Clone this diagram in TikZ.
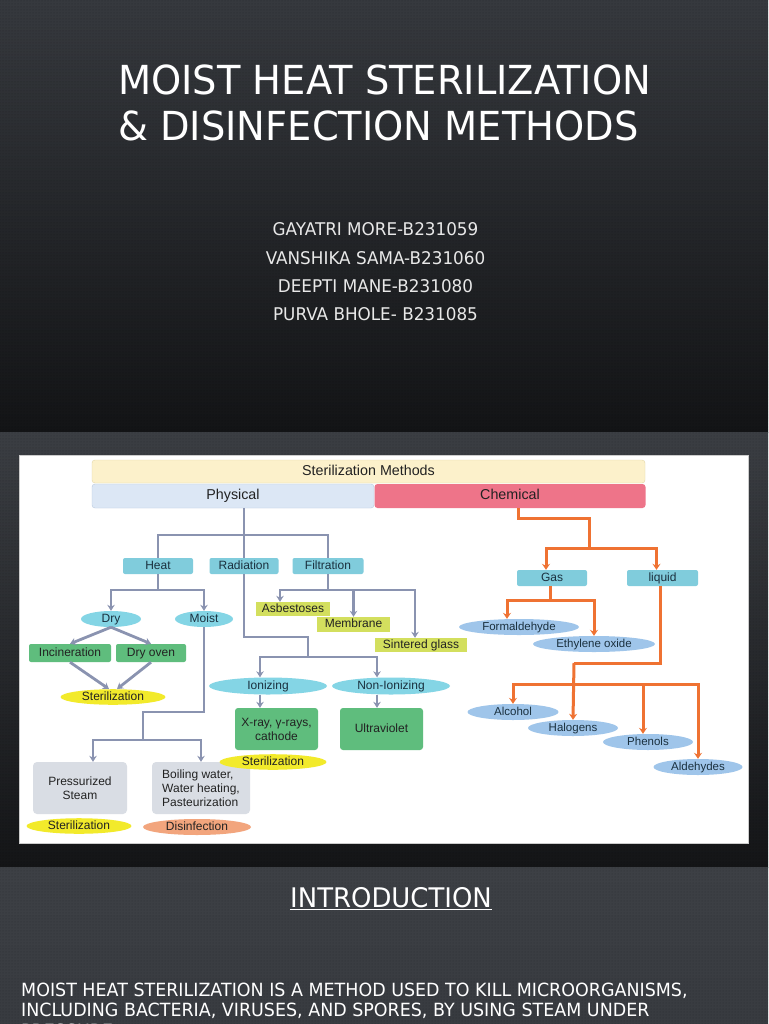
\documentclass[tikz,border=0pt]{standalone}
\usepackage{fontspec}
\setmainfont{Liberation Sans}
\newfontfamily\slidefont[FakeStretch=0.96]{DejaVu Sans}
\usepackage{xcolor}
\usepackage{tikz}
\usetikzlibrary{
  positioning,
  arrows.meta,
  shapes.geometric,
  patterns
}
\definecolor{slideAtop}{RGB}{54,57,62}
\definecolor{slideAmid}{RGB}{44,47,51}
\definecolor{slideAbot}{RGB}{19,20,22}
\definecolor{slideBtop}{RGB}{59,62,67}
\definecolor{slideBbot}{RGB}{20,21,23}
\definecolor{slideCtop}{RGB}{61,64,69}
\definecolor{slideCbot}{RGB}{56,59,64}
\definecolor{namegray}{RGB}{232,232,232}
\definecolor{methodbg}{RGB}{252,241,203}
\definecolor{methodborder}{RGB}{227,214,168}
\definecolor{physbg}{RGB}{220,231,245}
\definecolor{physborder}{RGB}{185,201,222}
\definecolor{chembg}{RGB}{238,116,137}
\definecolor{catbg}{RGB}{128,204,220}
\definecolor{ovalbg}{RGB}{132,213,229}
\definecolor{greenbg}{RGB}{95,189,125}
\definecolor{filterbg}{RGB}{211,223,94}
\definecolor{steambg}{RGB}{217,221,228}
\definecolor{steriyellow}{RGB}{242,234,43}
\definecolor{disinfbg}{RGB}{242,165,125}
\definecolor{chemovalbg}{RGB}{159,197,234}
\definecolor{physlinecolor}{RGB}{138,147,176}
\definecolor{chemlinecolor}{RGB}{239,114,50}
\definecolor{diagtext}{RGB}{34,34,34}
\definecolor{cattext}{RGB}{26,48,62}
\tikzset{
  titletext/.style={
    font=\slidefont\fontsize{40}{44}\selectfont, text=white, inner sep=0pt
  },
  nametext/.style={
    font=\slidefont\fontsize{17.5}{19}\selectfont, text=namegray, inner sep=0pt
  },
  oneline/.style={
    text height=8.6pt, text depth=2.4pt
  },
  barline/.style={
    text height=10.3pt, text depth=2.9pt
  },
  methodbar/.style={
    barline, draw=methodborder, fill=methodbg, rounded corners=3pt,
    minimum width=553pt, minimum height=23pt, inner sep=0pt,
    font=\fontsize{14.3}{15}\selectfont, text=diagtext
  },
  physbar/.style={
    barline, draw=physborder, fill=physbg, rounded corners=3pt,
    minimum width=282pt, minimum height=24pt, inner sep=0pt,
    font=\fontsize{14.3}{15}\selectfont, text=diagtext
  },
  chembar/.style={
    barline, fill=chembg, rounded corners=3pt,
    minimum width=271pt, minimum height=24pt, inner sep=0pt,
    font=\fontsize{14.3}{15}\selectfont, text=diagtext
  },
  catbox/.style={
    oneline, fill=catbg, rounded corners=2pt,
    minimum width=70pt, minimum height=16pt, inner sep=0pt,
    font=\fontsize{12}{13}\selectfont, text=cattext
  },
  typeoval/.style={
    oneline, ellipse, fill=ovalbg, minimum width=60pt, minimum height=16pt, inner sep=0pt,
    font=\fontsize{12}{13}\selectfont, text=cattext
  },
  greenbox/.style={
    fill=greenbg, rounded corners=2pt, minimum height=18pt, inner sep=0pt,
    font=\fontsize{12}{14}\selectfont, text=diagtext
  },
  filterbox/.style={
    oneline, fill=filterbg, minimum height=14pt, inner sep=0pt,
    font=\fontsize{12}{13}\selectfont, text=diagtext
  },
  steambox/.style={
    fill=steambg, rounded corners=4pt,
    minimum width=94pt, minimum height=52pt, inner sep=0pt,
    font=\fontsize{12}{14}\selectfont, text=diagtext
  },
  resultoval/.style={
    oneline, ellipse, minimum width=105pt, minimum height=15pt, inner sep=0pt,
    font=\fontsize{12}{13}\selectfont, text=diagtext
  },
  chemoval/.style={
    oneline, ellipse, fill=chemovalbg, minimum height=16pt, inner sep=0pt,
    font=\fontsize{11.5}{12}\selectfont, text=cattext
  },
  physline/.style={
    draw=physlinecolor, line width=2.8pt
  },
  physarrow/.style={
    physline, -{Stealth[length=6pt, width=7.5pt]}
  },
  chemline/.style={
    draw=chemlinecolor, line width=3pt
  },
  chemarrow/.style={
    chemline, -{Stealth[length=6pt, width=8pt]}
  }
}

\begin{document}
\begin{tikzpicture}[
    x=1pt, y=-1pt,
    every node/.style={align=center}
  ]
    \clip (0,0) rectangle (768,1024);

    % Slide backgrounds
    \fill[top color=slideAtop, middle color=slideAmid, bottom color=slideAbot] (0,0) rectangle (768,432);
    \fill[top color=slideBtop, bottom color=slideBbot] (0,432) rectangle (768,867);
    \fill[top color=slideCtop, bottom color=slideCbot] (0,867) rectangle (768,1024);
    \fill[pattern=dots, pattern color=black, fill opacity=0.25] (0,0) rectangle (768,1024);

    % Title slide
    \node[titletext, anchor=base west] (title1) at (118,95) {MOIST HEAT STERILIZATION};
    \node[titletext, anchor=base west] (title2) at (118,141) {\& DISINFECTION METHODS};
    \node[nametext, anchor=base] (name1) at (375.5,236) {GAYATRI MORE-B231059};
    \node[nametext, anchor=base] (name2) at (375.5,264) {VANSHIKA SAMA-B231060};
    \node[nametext, anchor=base] (name3) at (375.5,292) {DEEPTI MANE-B231080};
    \node[nametext, anchor=base] (name4) at (375.5,320) {PURVA BHOLE- B231085};

    % Diagram panel
    \fill[white, draw=black!20] (19,455) rectangle (748,843);

    \node[methodbar] (methods) at (368.5,471.5) {Sterilization Methods};
    \node[physbar] (physical) at (233,496) {Physical};
    \node[chembar] (chemical) at (510,496) {Chemical};

    % Physical side
    \node[catbox] (heat) at (158,566) {Heat};
    \node[catbox, minimum width=69pt] (radiation) at (244,566) {Radiation};
    \node[catbox, minimum width=71pt] (filtration) at (328,566) {Filtration};

    \node[typeoval] (dry) at (111,619) {Dry};
    \node[typeoval, minimum width=58pt] (moist) at (204,619) {Moist};
    \node[greenbox, oneline, minimum width=82pt] (incin) at (70,653) {Incineration};
    \node[greenbox, oneline, minimum width=70pt] (dryoven) at (151,653) {Dry oven};
    \node[resultoval, fill=steriyellow] (sterA) at (113,697) {Sterilization};

    \node[steambox] (pressure) at (80,788) {Pressurized\\Steam};
    \node[steambox, minimum width=98pt, align=left] (boiling) at (201,788) {Boiling water,\\Water heating,\\Pasteurization};
    \node[resultoval, fill=steriyellow] (sterB) at (79,826) {Sterilization};
    \node[resultoval, fill=disinfbg, minimum width=108pt, minimum height=16pt] (disinf) at (197,827) {Disinfection};

    \node[filterbox, minimum width=74pt] (asbest) at (293,609) {Asbestoses};
    \node[filterbox, minimum width=73pt, minimum height=15pt] (membrane) at (353.5,624.5) {Membrane};
    \node[filterbox, minimum width=92pt] (sintered) at (421,645) {Sintered glass};

    \node[typeoval, minimum width=118pt, minimum height=17pt] (ionizing) at (268,686) {Ionizing};
    \node[typeoval, minimum width=118pt, minimum height=17pt] (nonion) at (391,686) {Non-Ionizing};
    \node[greenbox, minimum width=83pt, minimum height=42pt, rounded corners=3pt] (xray) at (276.5,729) {X-ray, γ-rays,\\cathode};
    \node[greenbox, oneline, minimum width=83pt, minimum height=42pt, rounded corners=3pt] (uv) at (381.5,729) {Ultraviolet};
    \node[resultoval, fill=steriyellow, minimum width=107pt] (sterC) at (273,762) {Sterilization};

    % Chemical side
    \node[catbox] (gas) at (552,578) {Gas};
    \node[catbox, minimum width=71pt] (liquid) at (662.5,578) {liquid};
    \node[chemoval, minimum width=120pt] (formal) at (519,627) {Formaldehyde};
    \node[chemoval, minimum width=122pt] (ethylene) at (594,644) {Ethylene oxide};
    \node[chemoval, minimum width=91pt] (alcohol) at (513,712) {Alcohol};
    \node[chemoval, minimum width=90pt] (halogens) at (573,728) {Halogens};
    \node[chemoval, minimum width=90pt] (phenols) at (648,742) {Phenols};
    \node[chemoval, minimum width=89pt] (aldehydes) at (698,767) {Aldehydes};

    % Physical branch
    \coordinate (physsplit) at (244,535);
    \draw[physline] (physical.south -| physsplit) -- (physsplit);
    \draw[physline] (heat.north) |- (physsplit) -| (filtration.north);
    \draw[physline] (physsplit) -- (radiation.north);

    % Heat branch
    \coordinate (heatsplit) at (158,590);
    \draw[physline] (heat.south) -- (heatsplit);
    \draw[physarrow] (heatsplit) -| (dry.north);
    \draw[physarrow] (heatsplit) -| (moist.north);
    \draw[physarrow] (dry.south) -- (incin.north);
    \draw[physarrow] (dry.south) -- (dryoven.north);
    \draw[physarrow] (incin.south) -- ([xshift=-4pt]sterA.north);
    \draw[physarrow] (dryoven.south) -- ([xshift=4pt]sterA.north);

    % Moist branch
    \coordinate (moistbend) at (143,712);
    \coordinate (moistsplit) at (143,740);
    \draw[physline] (moist.south) |- (moistbend) -- (moistsplit);
    \draw[physarrow] (moistsplit) -| ([xshift=13pt]pressure.north);
    \draw[physarrow] (moistsplit) -| (boiling.north);

    % Radiation branch
    \coordinate (radbend) at (308,637);
    \coordinate (radsplit) at (308,657);
    \coordinate (ionleft) at (260,657);
    \coordinate (ionright) at (377,657);
    \draw[physline] (radiation.south) |- (radbend) -- (radsplit);
    \draw[physarrow] (radsplit) -| (ionleft |- ionizing.north);
    \draw[physarrow] (radsplit) -| (ionright |- nonion.north);
    \draw[physarrow] (ionleft |- ionizing.south) -- (ionleft |- xray.north);
    \draw[physarrow] (ionright |- nonion.south) -- (ionright |- uv.north);

    % Filtration branch
    \coordinate (filtsplit) at (328,590);
    \draw[physline] (filtration.south) -- (filtsplit);
    \draw[physarrow] (filtsplit) -| ([xshift=-13pt]asbest.north);
    \draw[physarrow] (filtsplit) -| (membrane.north);
    \draw[physarrow] (filtsplit) -| ([xshift=-6pt]sintered.north);

    % Chemical branch
    \coordinate (chembend) at (589,518);
    \coordinate (chemsplit) at (589,548);
    \draw[chemline] ([xshift=8pt]chemical.south) |- (chembend) -- (chemsplit);
    \draw[chemarrow] (chemsplit) -| ([xshift=-6pt]gas.north);
    \draw[chemarrow] (chemsplit) -| ([xshift=-6pt]liquid.north);

    \coordinate (gassplit) at (550,600);
    \draw[chemline] (gas.south -| gassplit) -- (gassplit);
    \draw[chemarrow] (gassplit) -| ([xshift=-12pt]formal.north);
    \draw[chemarrow] (gassplit) -| (ethylene.north);

    \coordinate (liqbend) at (574,663);
    \coordinate (liqbar) at (574,684);
    \draw[chemline] ([xshift=-2pt]liquid.south) |- (liqbend);
    \draw[chemarrow] (liqbend) -- (halogens.north);
    \draw[chemarrow] (liqbar) -| (alcohol.north);
    \draw[chemarrow] (liqbar) -| ([xshift=-5pt]phenols.north);
    \draw[chemarrow] (liqbar) -| (aldehydes.north);

    % Introduction slide
    \node[font=\slidefont\fontsize{27}{30}\selectfont, text=white, inner sep=0pt, anchor=base] (introhead) at (391,907) {\underline{INTRODUCTION}};
    \node[font=\slidefont\fontsize{18.2}{20.5}\selectfont, text=white, inner sep=0pt, anchor=base west, align=left] (introbody) at (21,1037) {MOIST HEAT STERILIZATION IS A METHOD USED TO KILL MICROORGANISMS,\\INCLUDING BACTERIA, VIRUSES, AND SPORES, BY USING STEAM UNDER\\PRESSURE};

  \end{tikzpicture}
\end{document}
